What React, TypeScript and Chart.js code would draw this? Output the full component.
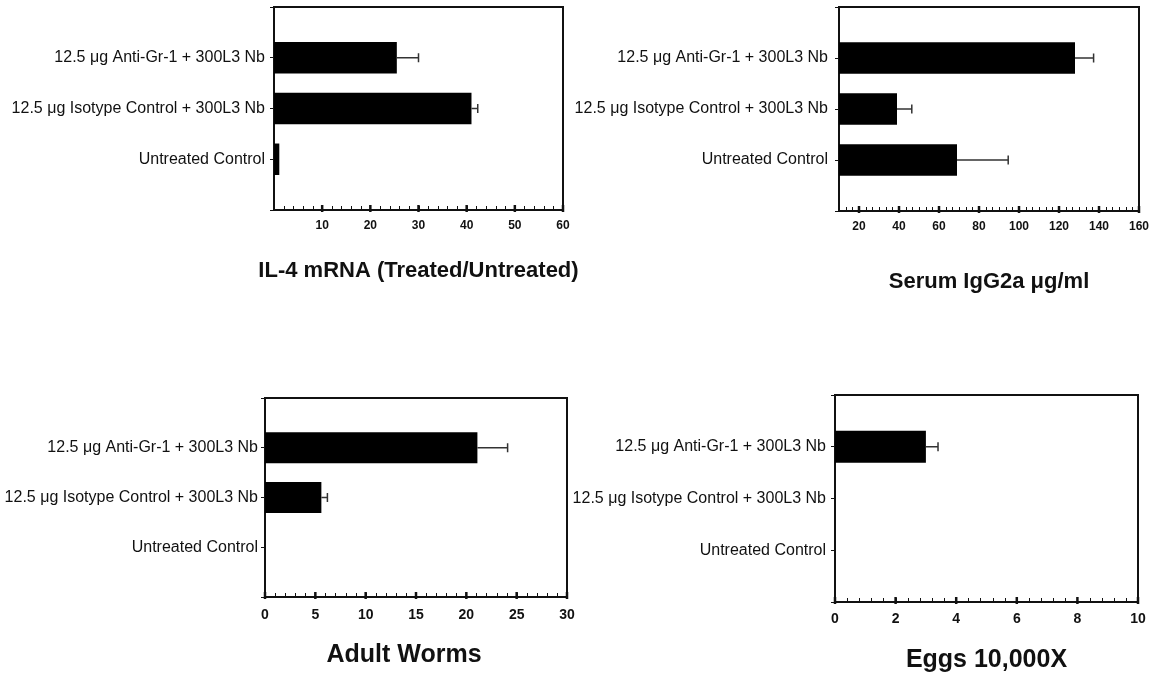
import React, { useEffect, useRef } from 'react';
import { Chart, registerables } from 'chart.js';

Chart.register(...registerables);

// ---------------- data ----------------
const categories = [
  '12.5 μg Anti-Gr-1 + 300L3 Nb',
  '12.5 μg Isotype Control + 300L3 Nb',
  'Untreated Control',
];

const il4Values = [25.5, 41.0, 1.1];
const il4Errors = [4.5, 1.3, 0];
const il4Ticks = [10, 20, 30, 40, 50, 60];

const igg2aValues = [128, 39, 69];
const igg2aErrors = [9.3, 7.4, 25.6];
const igg2aTicks = [20, 40, 60, 80, 100, 120, 140, 160];

const wormValues = [21.1, 5.6, 0];
const wormErrors = [3.0, 0.6, 0];
const wormTicks = [0, 5, 10, 15, 20, 25, 30];

const eggValues = [3.0, 0, 0];
const eggErrors = [0.4, 0, 0];
const eggTicks = [0, 2, 4, 6, 8, 10];

const titles = [
  'IL-4 mRNA (Treated/Untreated)',
  'Serum IgG2a μg/ml',
  'Adult Worms',
  'Eggs 10,000X',
];

// ---------------- layout / style ----------------
const FONT = '"Liberation Sans", Arial, Helvetica, sans-serif';
const INK = '#111';

interface PanelSpec {
  title: string;
  values: number[];
  errors: number[];
  ticks: number[];
  min: number;
  max: number;
  minorStep: number;
  left: number;
  top: number;
  width: number;
  height: number;
  padTop: number;
  padRight: number;
  padBottom: number;
  yWidth: number;
  xHeight: number;
  labelPad: number;
  tickFontSize: number;
  tickPad: number;
  titleSize: number;
  titleDy: number;
  titleDx: number;
}

const panels: PanelSpec[] = [
  {
    title: titles[0], values: il4Values, errors: il4Errors, ticks: il4Ticks,
    min: 0, max: 60, minorStep: 2,
    left: 0, top: 0, width: 581, height: 300,
    padTop: 7, padRight: 18, padBottom: 16, yWidth: 274, xHeight: 74,
    labelPad: 5, tickFontSize: 12, tickPad: 8, titleSize: 22, titleDy: 61, titleDx: 0,
  },
  {
    title: titles[1], values: igg2aValues, errors: igg2aErrors, ticks: igg2aTicks,
    min: 10, max: 160, minorStep: 10 / 3,
    left: 560, top: 0, width: 603, height: 300,
    padTop: 7, padRight: 24, padBottom: 5, yWidth: 279, xHeight: 84,
    labelPad: 7, tickFontSize: 12, tickPad: 8, titleSize: 22, titleDy: 71, titleDx: 0,
  },
  {
    title: titles[2], values: wormValues, errors: wormErrors, ticks: wormTicks,
    min: 0, max: 30, minorStep: 1,
    left: 0, top: 330, width: 581, height: 349,
    padTop: 68, padRight: 14, padBottom: 9, yWidth: 265, xHeight: 73,
    labelPad: 3, tickFontSize: 14, tickPad: 10, titleSize: 25, titleDy: 58, titleDx: -12,
  },
  {
    title: titles[3], values: eggValues, errors: eggErrors, ticks: eggTicks,
    min: 0, max: 10, minorStep: 0.4,
    left: 560, top: 330, width: 603, height: 349,
    padTop: 65, padRight: 25, padBottom: 4, yWidth: 275, xHeight: 73,
    labelPad: 5, tickFontSize: 14, tickPad: 9, titleSize: 25, titleDy: 58, titleDx: 0,
  },
];

// ---------------- plugin: error bars, frame, minor ticks, title ----------------
const decorPlugin = {
  id: 'decor',
  afterDatasetsDraw(chart: any, _args: any, opts: any) {
    const ctx = chart.ctx;
    const xs = chart.scales.x;
    chart.data.datasets.forEach((ds: any, di: number) => {
      const meta = chart.getDatasetMeta(di);
      const errs = ds.errors || [];
      meta.data.forEach((el: any, i: number) => {
        const v = ds.data[i];
        const e = errs[i];
        if (v == null || !e) return;
        const x0 = xs.getPixelForValue(v);
        const x1 = xs.getPixelForValue(v + e);
        const y = el.y;
        const cap = opts.capHalf || 4.5;
        ctx.save();
        ctx.strokeStyle = '#333';
        ctx.lineWidth = 1.5;
        ctx.beginPath();
        ctx.moveTo(x0, y);
        ctx.lineTo(x1, y);
        ctx.moveTo(x1, y - cap);
        ctx.lineTo(x1, y + cap);
        ctx.stroke();
        ctx.restore();
      });
    });
  },
  afterDraw(chart: any, _args: any, opts: any) {
    const { ctx, chartArea: a } = chart;
    const xs = chart.scales.x;
    ctx.save();
    ctx.strokeStyle = INK;
    // frame (top + right)
    ctx.lineWidth = 2;
    ctx.beginPath();
    ctx.moveTo(a.left - 1, a.top);
    ctx.lineTo(a.right, a.top);
    ctx.lineTo(a.right, a.bottom + 1);
    ctx.stroke();
    // minor ticks
    const step = opts.minorStep;
    const n = Math.round((xs.max - xs.min) / step);
    ctx.lineWidth = 1;
    for (let k = 1; k < n; k++) {
      const px = Math.round(xs.getPixelForValue(xs.min + k * step)) + 0.5;
      ctx.beginPath();
      ctx.moveTo(px, a.bottom - 4);
      ctx.lineTo(px, a.bottom);
      ctx.stroke();
    }
    // major ticks
    ctx.lineWidth = 2.5;
    xs.ticks.forEach((t: any) => {
      const px = xs.getPixelForValue(t.value);
      ctx.beginPath();
      ctx.moveTo(px, a.bottom - 5);
      ctx.lineTo(px, a.bottom + 2);
      ctx.stroke();
    });
    // panel title (not width-limited)
    ctx.fillStyle = INK;
    ctx.font = `bold ${opts.titleSize}px ${FONT}`;
    ctx.textAlign = 'center';
    ctx.textBaseline = 'middle';
    ctx.fillText(opts.title, (a.left + a.right) / 2 + opts.titleDx, a.bottom + opts.titleDy);
    ctx.restore();
  },
};

function Panel({ spec }: { spec: PanelSpec }) {
  const ref = useRef<HTMLCanvasElement | null>(null);

  useEffect(() => {
    if (!ref.current) return;
    const labels = ['', ...categories, ''];
    const data = [null, ...spec.values, null];
    const errors = [null, ...spec.errors, null];

    const chart = new Chart(ref.current, {
      type: 'bar',
      data: {
        labels,
        datasets: [
          {
            data,
            errors,
            backgroundColor: '#000',
            borderWidth: 0,
            categoryPercentage: 1,
            barPercentage: 0.62,
            clip: 0,
          } as any,
        ],
      },
      options: {
        indexAxis: 'y',
        responsive: false,
        animation: false,
        events: [],
        layout: {
          padding: { left: 0, top: spec.padTop, right: spec.padRight, bottom: spec.padBottom },
        },
        plugins: {
          legend: { display: false },
          tooltip: { enabled: false },
          title: { display: false },
          decor: {
            minorStep: spec.minorStep,
            capHalf: 4.5,
            title: spec.title,
            titleSize: spec.titleSize,
            titleDy: spec.titleDy,
            titleDx: spec.titleDx,
          },
        } as any,
        scales: {
          x: {
            type: 'linear',
            min: spec.min,
            max: spec.max,
            afterBuildTicks: (s: any) => {
              s.ticks = spec.ticks.map((v) => ({ value: v }));
            },
            afterFit: (s: any) => {
              s.height = spec.xHeight;
              s.paddingLeft = 0;
              s.paddingRight = 0;
            },
            grid: { display: false, drawTicks: false },
            border: { display: true, color: INK, width: 2 },
            ticks: {
              color: INK,
              font: { family: FONT, size: spec.tickFontSize, weight: 'bold' },
              padding: spec.tickPad,
              maxRotation: 0,
              autoSkip: false,
            },
            title: { display: false },
          },
          y: {
            type: 'category',
            offset: false,
            afterFit: (s: any) => {
              s.width = spec.yWidth;
              s.paddingTop = 0;
              s.paddingBottom = 0;
            },
            grid: {
              display: true,
              offset: false,
              drawOnChartArea: false,
              drawTicks: true,
              tickLength: 4,
              color: INK,
              lineWidth: 1,
            },
            border: { display: true, color: INK, width: 2 },
            ticks: {
              color: INK,
              font: { family: FONT, size: 16 },
              padding: spec.labelPad,
              autoSkip: false,
            },
          },
        },
      } as any,
      plugins: [decorPlugin as any],
    });
    return () => chart.destroy();
  }, [spec]);

  return (
    <div
      style={{
        position: 'absolute',
        left: spec.left,
        top: spec.top,
        width: spec.width,
        height: spec.height,
      }}
    >
      <canvas ref={ref} width={spec.width} height={spec.height} style={{ display: 'block' }} />
    </div>
  );
}

export default function App() {
  return (
    <div
      style={{
        position: 'fixed',
        left: 0,
        top: 0,
        width: 1163,
        height: 679,
        background: '#fff',
        overflow: 'hidden',
      }}
    >
      {panels.map((p, i) => (
        <Panel key={i} spec={p} />
      ))}
    </div>
  );
}
